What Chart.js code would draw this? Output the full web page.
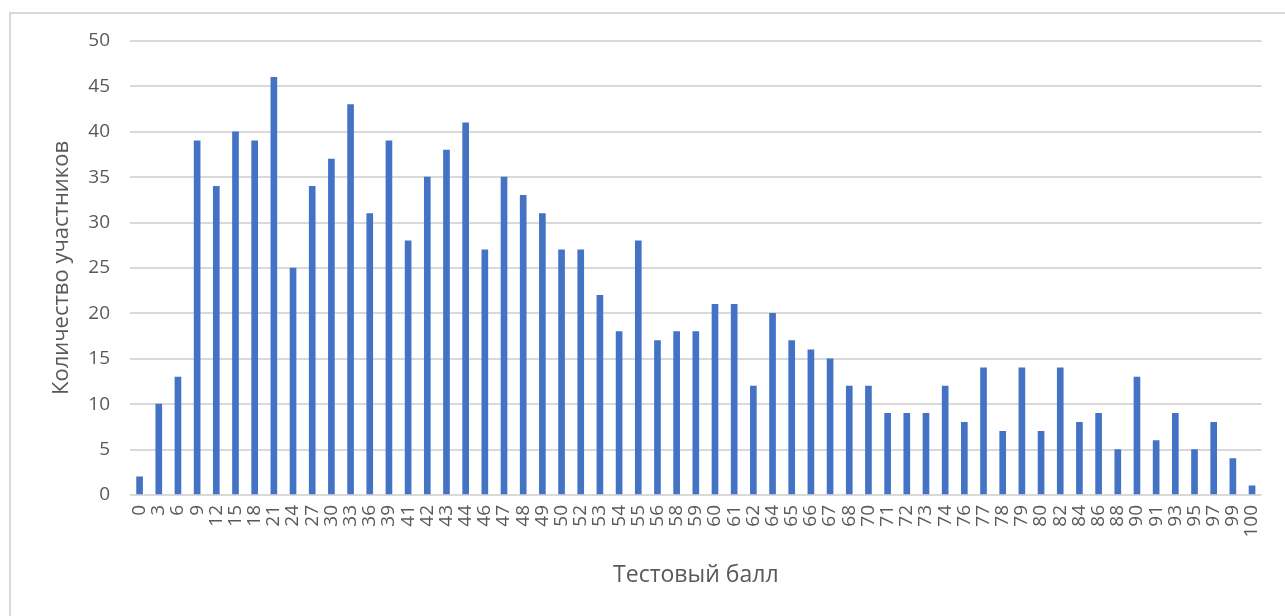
<!DOCTYPE html>
<html>
<head>
<meta charset="utf-8">
<script src="https://cdn.jsdelivr.net/npm/chart.js@4"></script>
<style>
  html, body { margin: 0; padding: 0; background: #ffffff; overflow: hidden; }
  #frame { position: absolute; left: 9px; top: 12px; width: 1400px; height: 700px; border: 2px solid #d9d9d9; box-sizing: border-box; }
  #wrap { position: absolute; left: 0; top: 0; width: 1285px; height: 616px; }
</style>
</head>
<body>
<div id="frame"></div>
<div id="wrap"><canvas id="c"></canvas></div>
<script>
const categories = ["0","3","6","9","12","15","18","21","24","27","30","33","36","39","41","42","43","44","46","47","48","49","50","52","53","54","55","56","58","59","60","61","62","64","65","66","67","68","70","71","72","73","74","76","77","78","79","80","82","84","86","88","90","91","93","95","97","99","100"];
const participants = [2,10,13,39,34,40,39,46,25,34,37,43,31,39,28,35,38,41,27,35,33,31,27,27,22,18,28,17,18,18,21,21,12,20,17,16,15,12,12,9,9,9,12,8,14,7,14,7,14,8,9,5,13,6,9,5,8,4,1];
const yTitle = "Количество участников";
const xTitle = "Тестовый балл";

const textColor = "#595959";
const fontFamily = "'Open Sans', 'Noto Sans', sans-serif";

new Chart(document.getElementById('c'), {
  type: 'bar',
  data: {
    labels: categories,
    datasets: [{
      data: participants,
      backgroundColor: '#4472C4',
      borderWidth: 0,
      barThickness: 6
    }]
  },
  options: {
    responsive: true,
    maintainAspectRatio: false,
    animation: false,
    layout: { padding: { left: 0, right: 18, top: 41, bottom: 0 } },
    plugins: { legend: { display: false }, tooltip: { enabled: false } },
    scales: {
      x: {
        grid: { display: false, drawTicks: false },
        border: { display: false },
        ticks: {
          autoSkip: false, minRotation: 90, maxRotation: 90,
          padding: 10, color: textColor,
          font: { family: fontFamily, size: 19 }
        },
        title: {
          display: true, text: xTitle, color: textColor,
          font: { family: fontFamily, size: 23 },
          padding: { top: 0, bottom: 27 }
        },
        afterFit: (axis) => { axis.height = 121; }
      },
      y: {
        min: 0, max: 50,
        grid: { color: '#d9d9d9', lineWidth: 2, drawTicks: false },
        border: { display: false },
        ticks: {
          stepSize: 5, padding: 20, color: textColor,
          font: { family: fontFamily, size: 19 }
        },
        title: {
          display: true, text: yTitle, color: textColor,
          font: { family: fontFamily, size: 22 },
          padding: { top: 49, bottom: 0 }
        },
        afterFit: (axis) => { axis.width = 130; }
      }
    }
  }
});
</script>
</body>
</html>
